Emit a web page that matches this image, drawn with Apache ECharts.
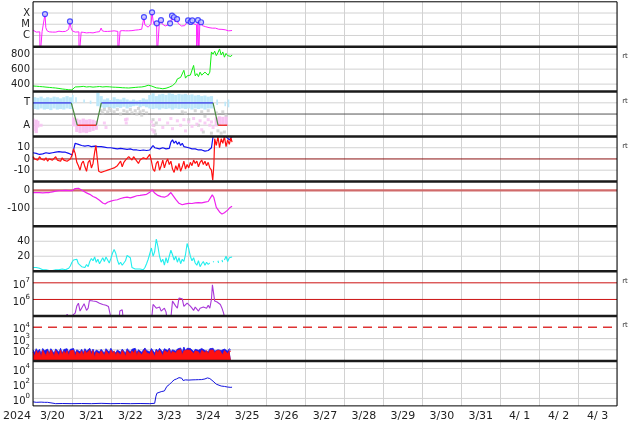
<!DOCTYPE html>
<html><head><meta charset="utf-8">
<script src="https://cdn.jsdelivr.net/npm/echarts@6/dist/echarts.min.js"></script>
<style>html,body{margin:0;padding:0;background:#fff}#c{width:634px;height:424px}</style>
</head><body><div id="c"></div>
<script>
// ---------- DATA (hours since 2024-03-20 00:00) ----------
const dayLabels = ['3/20','3/21','3/22','3/23','3/24','3/25','3/26','3/27','3/28','3/29','3/30','3/31','4/ 1','4/ 2','4/ 3'];
const yearLabel = '2024';

const xrayFlux = [[0,3.0e-6],[1,2.6e-6],[2,2.0e-6],[3,2.4e-6],[4.2,2.1e-6],[4.3,1e-8],[5.5,1e-8],[5.6,2.2e-6],[6.5,2.6e-6],[7.4,8.1e-5],[7.9,5e-6],[8.7,2.6e-6],[10,2.1e-6],[11,2.4e-6],[12,2.0e-6],[13,2.3e-6],[14,2.0e-6],[15,2.2e-6],[16,2.4e-6],[17,2.0e-6],[18,2.2e-6],[19,2.5e-6],[20,2.3e-6],[21,2.8e-6],[22,3.5e-6],[22.8,1.8e-5],[23.4,5e-6],[24.2,2.6e-6],[25,2.2e-6],[26,2.0e-6],[27,2.3e-6],[28.3,2.1e-6],[28.4,1e-8],[29.6,1e-8],[29.7,2.0e-6],[31,1.9e-6],[32,2.1e-6],[33,1.7e-6],[34,2.0e-6],[35,1.8e-6],[36,2.0e-6],[37,1.7e-6],[38,2.2e-6],[39,2.0e-6],[40,2.4e-6],[41,2.2e-6],[42,4.6e-6],[42.7,2.6e-6],[44,2.3e-6],[45,2.1e-6],[46,2.3e-6],[47,2.0e-6],[48,2.4e-6],[49,2.2e-6],[50,2.6e-6],[51,2.4e-6],[52.3,2.3e-6],[52.4,1e-8],[53.6,1e-8],[53.7,2.5e-6],[55,2.7e-6],[56,2.4e-6],[57,2.6e-6],[58,2.9e-6],[59,2.6e-6],[60,3.0e-6],[61,2.7e-6],[62,3.2e-6],[63,3.0e-6],[64,3.4e-6],[65,3.2e-6],[66,3.8e-6],[67,3.6e-6],[68,4.2e-6],[68.4,4.4e-5],[68.9,9e-6],[70,6e-6],[71,5.5e-6],[72,6.5e-6],[72.8,1.1e-5],[73.4,1.15e-4],[74,2.2e-5],[74.7,9e-6],[75.5,7e-6],[76.2,1.2e-5],[76.5,1e-8],[77.6,1e-8],[77.8,9e-6],[78.9,2.3e-5],[79.6,1.1e-5],[80.5,8e-6],[81.5,7e-6],[82.5,8e-6],[83.5,9e-6],[84.5,1.2e-5],[85.1,2e-5],[85.7,5.8e-5],[86.3,2.4e-5],[86.9,4.2e-5],[87.6,1.6e-5],[88.2,1.3e-5],[88.8,2.9e-5],[89.5,1.2e-5],[90.5,8e-6],[91.5,7e-6],[92.5,8e-6],[93.5,7.5e-6],[94.5,9e-6],[95.6,2.2e-5],[96.3,1e-5],[97.2,1.6e-5],[97.7,1.1e-5],[98.2,2.2e-5],[99,1.1e-5],[100,8e-6],[100.8,9e-6],[100.9,1e-8],[101.4,1e-8],[101.7,2.3e-5],[102.2,1e-8],[102.6,1e-8],[102.8,9e-6],[103.6,1.5e-5],[104.4,7.5e-6],[105.5,6.5e-6],[106.5,6e-6],[107.5,5.5e-6],[108.5,5e-6],[109.5,5.2e-6],[110.5,4.5e-6],[111.5,4.2e-6],[112.5,4.5e-6],[113.5,3.8e-6],[114.5,3.6e-6],[115.5,3.3e-6],[116.5,3.5e-6],[117.5,3.0e-6],[118.5,3.2e-6],[119.5,2.8e-6],[120.5,2.6e-6],[121.3,3.4e-6],[122,2.7e-6],[122.7,2.8e-6]];
const flareHours = [7.4,22.8,68.4,73.4,76.3,78.9,84.5,85.7,86.9,88.8,95.6,97.2,98.2,101.7,103.6];
const flarePeaks = [8.1e-5,1.8e-5,4.4e-5,1.15e-4,1.2e-5,2.3e-5,1.2e-5,5.8e-5,4.2e-5,2.9e-5,2.2e-5,1.6e-5,2.2e-5,2.3e-5,1.5e-5];

const windSpeed = [[0,375],[2,372],[4,368],[6,365],[8,360],[10,356],[12,352],[14,348],[16,342],[18,335],[20,330],[22,325],[24,322],[25,320],[26,362],[27,368],[29,365],[31,370],[33,362],[35,366],[37,360],[39,364],[41,368],[43,362],[45,366],[47,364],[49,360],[51,358],[53,356],[55,352],[57,350],[59,348],[61,352],[63,356],[65,360],[67,362],[69,370],[71,385],[72,410],[73,375],[74,358],[76,350],[78,345],[80,338],[82,345],[84,360],[86,380],[87,400],[88,420],[89,470],[90,455],[91,490],[92,470],[93,585],[94,480],[95,510],[96,490],[97,520],[98,500],[99,650],[100,510],[101,540],[102,500],[103,560],[104,520],[105,530],[106,560],[107,540],[108,520],[109,560],[110,830],[111,800],[112,840],[113,780],[114,820],[115,870],[116,790],[117,830],[118,760],[119,810],[120,780],[121,800],[122,770],[122.7,790]];

// sector: T = 3, A = 1
const sectorHours = [0,23.6,27.3,39,42.1,111,114.1,119.8];
const sectorValues = [3,3,1,1,3,3,1,1];
const blueCloud = [[0,2,2.45,3.5],[2,4,2.4,3.45],[4,6,2.5,3.55],[6,8,2.4,3.4],[8,10,2.45,3.5],[10,12,2.35,3.45],[12,14,2.5,3.55],[14,16,2.4,3.5],[16,18,2.45,3.4],[18,20,2.4,3.5],[20,22,2.5,3.6],[22,24,2.45,3.5],[24,25,2.9,3.7],[26,27,3.0,3.5],[31,32,3.0,3.3],[35,36,2.9,3.2],[39,41,2.7,3.9],[41,43,2.6,3.6],[43,45,2.5,3.3],[45,47,2.6,3.4],[47,49,2.55,3.25],[49,51,2.5,3.5],[51,53,2.6,3.35],[53,55,2.55,3.3],[55,57,2.65,3.45],[57,59,2.5,3.3],[59,61,2.6,3.2],[61,63,2.7,3.3],[63,65,2.75,3.2],[65,67,2.6,3.25],[67,69,2.7,3.4],[69,71,2.6,3.3],[71,73,2.5,3.7],[73,75,2.45,3.85],[75,77,2.5,3.6],[77,79,2.4,3.75],[79,81,2.5,3.8],[81,83,2.45,3.7],[83,85,2.5,3.85],[85,87,2.4,3.8],[87,89,2.5,3.7],[89,91,2.45,3.8],[91,93,2.5,3.75],[93,95,2.45,3.8],[95,97,2.5,3.7],[97,99,2.4,3.75],[99,101,2.5,3.65],[101,103,2.45,3.7],[103,105,2.5,3.6],[105,107,2.4,3.65],[107,109,2.5,3.55],[109,111,2.5,3.6],[113,114,2.8,3.3],[118,119,2.7,3.1],[120,121,2.6,3.3]];
const pinkCloud = [[0,1,0.5,1.6],[1,3,0.3,1.5],[3,4,0.8,1.4],[24,26,0.9,1.7],[26,28,0.4,1.6],[28,30,0.3,1.5],[30,32,0.35,1.6],[32,34,0.3,1.5],[34,36,0.4,1.55],[36,38,0.5,1.5],[38,40,0.6,1.4],[112,114,0.9,1.7],[114,116,1.0,1.8],[116,118,1.1,1.75],[118,120,1.0,1.8]];
const pinkPts = [[5,1.0],[44,1.2],[45,0.8],[57,1.5],[57.5,1.2],[58,1.55],[73,1.3],[73.5,0.6],[74,1.0],[74.5,0.4],[78,1.5],[80,0.8],[83,1.2],[85,1.6],[86,0.7],[89,1.4],[91,1.0],[93,1.5],[94,0.5],[96,1.3],[98,0.9],[99,1.6],[101,1.1],[103,1.4],[104,0.6],[106,1.2],[108,1.5],[109,1.0],[110,1.3],[111,0.8]];
const grayPts = [[42,2.3],[43,2.1],[44,2.4],[46,2.2],[47,2.5],[48,2.3],[50,2.2],[52,2.4],[54,2.0],[56,2.3],[58,2.2],[60,2.4],[61,2.1],[63,2.3],[64,2.0],[65,2.5],[66,2.2],[67,1.9],[68,2.3],[70,2.1],[74,1.5],[74.5,1.0],[75,0.5],[75.5,0.2],[76,1.2],[92,2.2],[94,2.1],[96,1.5],[100,2.3],[102,1.0],[104,2.2],[105,0.4],[106,1.8],[108,2.3],[110,0.3],[113,2.1],[114,0.5],[116,0.3],[117,2.2],[118,0.4],[119,1.9]];

const bt = [[0,5.5],[2,5],[4,4],[6,4.5],[8,5.5],[10,5],[12,5.5],[14,6],[16,6.5],[18,6],[20,6],[22,5],[23,4],[24,3.5],[25,8],[26,14],[27,15],[28,13],[30,12],[32,11.5],[34,12],[36,11],[38,11.5],[40,11],[42,11],[44,10.5],[46,10],[48,10],[50,9.5],[52,9],[54,9.5],[56,9],[58,8.5],[60,9],[62,8],[64,8],[66,7.5],[68,8],[70,7.5],[72,8],[73,10],[74,12],[75,10],[76,9],[78,9],[80,10],[82,9],[84,9.5],[85,15],[86,17],[87,14],[88,16],[89,13],[90,15],[91,12],[92,14],[93,11],[94,12],[96,10],[98,9],[100,9],[102,8],[104,8],[106,7],[108,7.5],[109,6],[110,10],[111,20],[112,22],[113,20],[114,21],[115,22],[116,20],[117,21],[118,22],[119,20],[120,21],[121,17],[122,18],[122.7,20]];
const bz = [[0,2],[1,0],[2,1],[3,-1],[4,2],[5,0],[6,1],[7,-1],[8,1],[9,-2],[10,0],[11,1],[12,-1],[13,0],[14,2],[15,-1],[16,0],[17,-2],[18,1],[19,-1],[20,0],[21,-2],[22,-1],[23,0],[24,3],[25,9],[26,5],[27,-3],[28,-6],[29,-10],[30,-4],[31,-2],[32,-7],[33,-11],[34,-3],[35,-1],[36,-8],[37,-4],[38,6],[38.8,12],[39.5,2],[40.5,-11],[42,-12],[44,-11],[46,-10],[48,-9],[50,-8],[52,-6],[53,-4],[54,-2],[55,-7],[56,-3],[57,-1],[58,0],[59,2],[60,1],[61,-1],[62,2],[63,0],[64,1],[65,-4],[66,-1],[67,0],[68,1],[69,2],[70,0],[71,1],[72,4],[73,-2],[74,-9],[75,-11],[76,-4],[77,-2],[78,-10],[79,-6],[80,-1],[81,-8],[82,-3],[83,0],[84,-5],[85,-2],[86,-9],[87,-12],[88,-6],[89,-10],[90,-4],[91,-11],[92,-7],[93,-2],[94,-9],[95,-5],[96,-8],[97,-3],[98,-6],[99,-1],[100,-4],[101,-2],[102,-7],[103,-3],[104,-1],[105,-5],[106,-2],[107,-6],[108,-3],[109,-8],[110,-10],[110.8,-19],[111.5,-5],[112,18],[113,12],[114,20],[115,10],[116,18],[117,14],[118,20],[119,11],[120,17],[121,13],[122,19],[122.7,15]];

const dst = [[0,-12],[2,-13],[4,-12],[6,-14],[8,-13],[10,-12],[12,-8],[14,-4],[16,-2],[18,-1],[20,0],[22,-1],[24,-2],[26,10],[28,12],[29,10],[31,-4],[33,-14],[35,-22],[37,-34],[39,-42],[41,-55],[43,-70],[44.5,-76],[46,-66],[48,-60],[50,-55],[52,-52],[54,-45],[56,-40],[58,-38],[60,-42],[62,-36],[64,-30],[66,-28],[68,-25],[70,-22],[72,-10],[73.5,3],[75,-15],[77,-28],[79,-35],[81,-38],[83,-30],[85,-12],[86,-20],[88,-50],[90,-72],[92,-80],[94,-75],[96,-72],[98,-73],[100,-70],[102,-68],[104,-70],[106,-65],[108,-62],[109,-55],[110.5,-25],[111.5,-40],[113,-95],[115,-120],[116.5,-132],[118,-125],[120,-110],[121.5,-95],[122.7,-88]];

const density = [[0,5],[1,3],[2,5],[3,3],[4,4],[5,2],[6,2],[8,2],[10,1],[12,1],[14,2],[16,2],[18,3],[20,2],[22,4],[23,7],[24,12],[25,15],[26,14],[27,16],[28,10],[29,9],[30,6],[31,8],[32,5],[33,9],[34,6],[35,13],[36,17],[37,14],[38,19],[39,12],[40,16],[41,10],[42,14],[43,18],[44,13],[45,19],[46,15],[47,11],[48,17],[49,24],[50,29],[51,24],[52,15],[53,9],[54,12],[55,8],[56,10],[57,14],[58,21],[59,23],[60,18],[61,5],[62,4],[63,3],[64,4],[66,3],[68,2],[69,5],[70,10],[71,16],[72,14],[73,31],[74,20],[75,26],[76,43],[77,33],[78,20],[79,12],[80,16],[81,8],[82,18],[83,11],[84,20],[85,28],[86,22],[87,15],[88,20],[89,12],[90,18],[91,10],[92,16],[93,13],[94,22],[95,37],[96,30],[97,20],[98,14],[99,18],[100,11],[101,8],[102,14],[103,6],[104,10],[105,13],[106,8],[107,12],[108,9],[109,11],[109.5,null],[111,13],[111.5,12],[112,null],[114,14],[114.4,11],[115,null],[116.5,15],[116.9,12],[117.3,null],[118,15],[119,20],[120,13],[121,18],[122,16],[122.7,19]];

const electron = [[0,5e4],[4,5e4],[4.3,1.1e5],[4.6,5e4],[20,5e4],[21,1.3e5],[22,1.6e5],[22.5,8e4],[26,1.5e5],[27,4e5],[28,6e5],[29,2e5],[30,1.6e5],[31.5,5.5e5],[32.5,6.2e5],[33,2.2e5],[34,3e5],[34.8,8.7e5],[36,1e6],[37,8e5],[38,7e5],[39,7.5e5],[40,6.5e5],[41,6e5],[43,5e5],[45,4.5e5],[46.5,3.8e5],[47.5,3e5],[48.5,5e4],[53,5e4],[53.5,2e5],[55,2.4e5],[55.8,5e4],[73,5e4],[74,5e5],[75,6e5],[76,3e5],[77,2.5e5],[78,3.5e5],[79,2e5],[80,2.5e5],[81,3e5],[82,1.8e5],[82.5,8e4],[85,8e4],[86,8e5],[87,1e6],[88,4e5],[89,3e5],[90,1.2e6],[91,1.4e6],[92,1.1e6],[93,3.8e5],[94,5e5],[95,6e5],[96,7e5],[97,4e5],[98,3e5],[99,2.2e5],[100,3.5e5],[101,2.7e5],[102,2e5],[103,3e5],[104,2.5e5],[105,3.5e5],[106,4e5],[107,3e5],[108,4.5e5],[109,3e5],[110,1e6],[110.6,7.6e6],[111.3,2.5e6],[112,8e5],[112.7,1e6],[113.5,7e5],[114.5,8e5],[115.5,5e5],[116.5,3e5],[117.5,1.5e5],[118.5,5e4]];

// hourly from 00h
const protonBlue = [100,55,125,70,110,45,130,80,60,115,50,125,90,50,120,95,60,135,50,105,75,125,60,110,85,130,50,100,140,65,110,55,125,75,100,135,60,115,50,95,130,65,110,85,50,125,100,60,135,75,110,55,95,130,60,115,85,50,125,100,65,110,75,135,55,100,125,60,95,145,85,110,65,130,100,50,115,75,135,95,60,125,110,85,140,65,100,130,75,115,90,145,60,175,85,135,100,130,120,70,110,140,90,60,130,100,85,115,65,125,90,135,75,110,100,130,85,60,115,100,75,125,90];
const protonRed = [60,25,85,40,70,20,90,50,30,80,35,95,55,25,85,65,30,90,35,75,45,85,30,80,55,90,25,70,100,40,80,30,85,50,70,95,35,85,20,65,90,40,80,55,30,85,70,35,95,50,80,30,65,90,35,85,55,25,85,70,40,80,50,95,30,70,85,35,65,100,55,80,40,90,70,25,85,50,95,65,30,85,80,55,100,40,70,90,50,85,65,105,35,80,55,95,70,90,85,45,80,100,65,35,90,70,55,85,40,90,65,95,50,80,70,90,55,35,85,65,45,80,70];

const highEnergy = [[0,0.35],[2,0.3],[3,0.4],[5,0.32],[7,0.3],[8,0.36],[9,0.3],[10,0.22],[14,0.2],[18,0.21],[24,0.2],[30,0.21],[36,0.2],[42,0.22],[48,0.2],[54,0.21],[60,0.2],[66,0.21],[72,0.2],[75,0.22],[75.8,2],[76.4,5],[77.5,7],[79,8],[81,10],[82.5,40],[84,70],[85.5,150],[87,300],[88.5,400],[90,600],[91,900],[91.7,500],[92.5,250],[94,300],[96,280],[98,300],[100,310],[102,320],[104,330],[106,400],[107.5,550],[109,450],[110,350],[111,200],[112,120],[113,80],[114,60],[116,45],[118,40],[120,33],[121,38],[122,30],[122.7,32]];

// reference / grid line levels per panel
const GL = '#d2d2d2';
const refLines = [
  [{v: 1e-6, c: GL}, {v: 1e-5, c: GL}, {v: 1e-4, c: GL}],
  [{v: 400, c: GL}, {v: 600, c: GL}, {v: 800, c: GL}],
  [{v: 1, c: GL}, {v: 3, c: GL}, {v: 2, c: '#555'}],
  [{v: 10, c: GL}, {v: -10, c: GL}, {v: 0, c: '#8b1010'}],
  [{v: -100, c: GL}, {v: 0, c: '#d06a6a', w: 2.2}],
  [{v: 20, c: GL}, {v: 40, c: GL}],
  [{v: 1e6, c: '#cc1111'}, {v: 1e7, c: '#cc1111'}],
  [{v: 100, c: GL}, {v: 1000, c: GL}, {v: 1e4, c: '#dd3333', w: 1.5, t: [9, 6]}],
  [{v: 1, c: GL}, {v: 100, c: GL}, {v: 1e4, c: GL}]
];

// ---------- LAYOUT ----------
const TOP = 1.8, PH = 44.9, L = 33, R = 17, W = 634 - L - R, NP = 9;
const XMIN = 0, XMAX = 360;
const FONT = 'DejaVu Sans';

const grids = [], xAxes = [], yAxes = [], series = [];
for (let i = 0; i < NP; i++) {
  grids.push({left: L, right: R, top: TOP + i * PH, height: PH, show: false});
  xAxes.push({type: 'value', gridIndex: i, min: XMIN, max: XMAX, interval: 24,
    axisLine: {show: false}, axisTick: {show: false}, axisLabel: {show: false},
    splitLine: {show: true, lineStyle: {color: '#d2d2d2', width: 1}}});
}
xAxes.push({type: 'category', gridIndex: 8, data: dayLabels, boundaryGap: true, position: 'bottom',
  axisLine: {show: false}, axisTick: {show: false}, splitLine: {show: false},
  axisLabel: {interval: 0, fontSize: 11, color: '#222', margin: 5, fontFamily: FONT}});

const lab = {fontSize: 10, color: '#222', margin: 3, fontFamily: FONT};
const rich = {b: {fontSize: 10, lineHeight: 12, padding: [5, 0, 0, 0], color: '#222', fontFamily: FONT},
              s: {fontSize: 7, lineHeight: 12, verticalAlign: 'top', color: '#222', fontFamily: FONT}};
function powLab(show) {
  return v => { const l = Math.log10(v), e = Math.round(l);
    if (Math.abs(l - e) > 0.01 || show.indexOf(e) < 0) return '';
    return '{b|10}{s|' + e + '}'; };
}
function pick(show) { return v => show.indexOf(v) >= 0 ? String(v) : ''; }
const base = {axisLine: {show: false}, axisTick: {show: false}, splitLine: {show: false}};
yAxes.push(Object.assign({type: 'log', logBase: 10, gridIndex: 0, min: 1e-7, max: 1e-3,
  axisLabel: Object.assign({}, lab, {formatter: v => ({'-4': 'X', '-5': 'M', '-6': 'C'})[Math.round(Math.log10(v))] || ''})}, base));
yAxes.push(Object.assign({type: 'value', gridIndex: 1, min: 300, max: 900, interval: 100,
  axisLabel: Object.assign({}, lab, {formatter: pick([400, 600, 800])})}, base));
yAxes.push(Object.assign({type: 'value', gridIndex: 2, min: 0, max: 4, interval: 1,
  axisLabel: Object.assign({}, lab, {formatter: v => v === 3 ? 'T' : (v === 1 ? 'A' : '')})}, base));
yAxes.push(Object.assign({type: 'value', gridIndex: 3, min: -20, max: 20, interval: 10,
  axisLabel: Object.assign({}, lab, {formatter: pick([10, 0, -10])})}, base));
yAxes.push(Object.assign({type: 'value', gridIndex: 4, min: -200, max: 50, interval: 50,
  axisLabel: Object.assign({}, lab, {formatter: pick([0, -100])})}, base));
yAxes.push(Object.assign({type: 'value', gridIndex: 5, min: 0, max: 60, interval: 20,
  axisLabel: Object.assign({}, lab, {formatter: pick([20, 40])})}, base));
yAxes.push(Object.assign({type: 'log', logBase: 10, gridIndex: 6, min: 1e5, max: 5e7,
  axisLabel: Object.assign({}, lab, {formatter: powLab([6, 7]), rich: rich})}, base));
yAxes.push(Object.assign({type: 'log', logBase: 10, gridIndex: 7, min: 10, max: 1e5,
  axisLabel: Object.assign({}, lab, {formatter: powLab([2, 3, 4]), rich: rich})}, base));
yAxes.push(Object.assign({type: 'log', logBase: 10, gridIndex: 8, min: 0.1, max: 1e5,
  axisLabel: Object.assign({}, lab, {formatter: powLab([0, 2, 4]), rich: rich})}, base));

// reference lines as low-z line series spanning the axis range
refLines.forEach((lines, i) => {
  lines.forEach(l => {
    series.push({type: 'line', xAxisIndex: i, yAxisIndex: i, data: [[XMIN, l.v], [XMAX, l.v]],
      showSymbol: false, symbol: 'none', silent: true, animation: false, z: 1,
      lineStyle: {color: l.c, width: l.w || 1, type: l.t || 'solid'}});
  });
});

function line(i, data, color, w, extra) {
  return Object.assign({type: 'line', xAxisIndex: i, yAxisIndex: i, data: data, showSymbol: false, symbol: 'none',
    lineStyle: {color: color, width: w || 1}, animation: false, silent: true, z: 3, connectNulls: false}, extra || {});
}
function cloud(i, data, color) {
  return {type: 'custom', xAxisIndex: i, yAxisIndex: i, data: data, silent: true, animation: false, z: 2,
    encode: {x: [0, 1], y: [2, 3]},
    renderItem: (p, api) => {
      const a = api.coord([api.value(0), api.value(3)]), b = api.coord([api.value(1), api.value(2)]);
      return {type: 'rect', shape: {x: a[0], y: a[1], width: b[0] - a[0], height: b[1] - a[1]}, style: {fill: color}};
    }};
}
function pts(i, data, color, size) {
  return {type: 'scatter', xAxisIndex: i, yAxisIndex: i, data: data, symbol: 'rect', symbolSize: size || 2.5,
    itemStyle: {color: color}, silent: true, animation: false, z: 2};
}

// panel 1
series.push(line(0, xrayFlux, '#ff22ff', 1));
series.push({type: 'scatter', xAxisIndex: 0, yAxisIndex: 0, data: flareHours.map((h, k) => [h, flarePeaks[k]]),
  symbol: 'circle', symbolSize: 5, itemStyle: {color: '#c4caff', borderColor: '#2626ff', borderWidth: 1.2}, z: 4, silent: true, animation: false});
// panel 2
series.push(line(1, windSpeed, '#11ee11', 1));
// panel 3
series.push(pts(2, grayPts, '#cccccc', 3));
series.push(cloud(2, pinkCloud, '#f8c2f2'));
series.push(pts(2, pinkPts, '#f8c2f2', 3));
series.push(cloud(2, blueCloud, '#bde8fa'));
const segB = [], segR = [], segG = [];
for (let k = 0; k < sectorHours.length - 1; k++) {
  const a = [sectorHours[k], sectorValues[k]], b = [sectorHours[k + 1], sectorValues[k + 1]];
  const tgt = (a[1] === 3 && b[1] === 3) ? segB : (a[1] === 1 && b[1] === 1) ? segR : segG;
  tgt.push(a, b, [b[0], null]);
}
series.push(line(2, segB, '#5a64ea', 1.6));
series.push(line(2, segR, '#ee3333', 1.6));
series.push(line(2, segG, '#4a8a40', 1.2));
// panel 4
series.push(line(3, bt, '#1111ee', 1.2));
series.push(line(3, bz, '#ff1111', 1.2));
// panel 5
series.push(line(4, dst, '#ee22ee', 1.2));
// panel 6
series.push(line(5, density, '#22eeee', 1.1));
// panel 7
series.push(line(6, electron, '#a838d8', 1.1));
// panel 8
series.push(line(7, protonBlue.map((v, h) => [h, v]), '#1a1aee', 0.8, {areaStyle: {color: '#1a1aee', opacity: 1, origin: 'start'}}));
series.push(line(7, protonRed.map((v, h) => [h, v]), '#ff1111', 0.8, {areaStyle: {color: '#ff1111', opacity: 1, origin: 'start'}}));
// panel 9
series.push(line(8, highEnergy, '#1515e0', 1));

// frame, separators, extra texts
const graphic = [{type: 'rect', z: 50, silent: true, shape: {x: L, y: TOP, width: W, height: NP * PH},
  style: {fill: 'none', stroke: '#000', lineWidth: 1}}];
for (let i = 1; i < NP; i++) {
  graphic.push({type: 'line', z: 50, silent: true, shape: {x1: L, y1: TOP + i * PH, x2: L + W, y2: TOP + i * PH},
    style: {stroke: '#1a1a1a', lineWidth: 2.5}});
}
[1, 2, 3, 6, 7].forEach(i => graphic.push({type: 'text', z: 50, silent: true, x: 625, y: TOP + i * PH + 9.5,
  style: {text: 'rt', fontSize: 7, fontFamily: FONT, fill: '#333', align: 'center', verticalAlign: 'middle'}}));
graphic.push({type: 'text', z: 50, silent: true, x: 17, y: 416,
  style: {text: yearLabel, fontSize: 11, fontFamily: FONT, fill: '#222', align: 'center', verticalAlign: 'middle'}});

const chart = echarts.init(document.getElementById('c'), null, {renderer: 'canvas'});
chart.setOption({animation: false, backgroundColor: '#fff', textStyle: {fontFamily: FONT},
  grid: grids, xAxis: xAxes, yAxis: yAxes, series: series, graphic: graphic});
</script></body></html>
